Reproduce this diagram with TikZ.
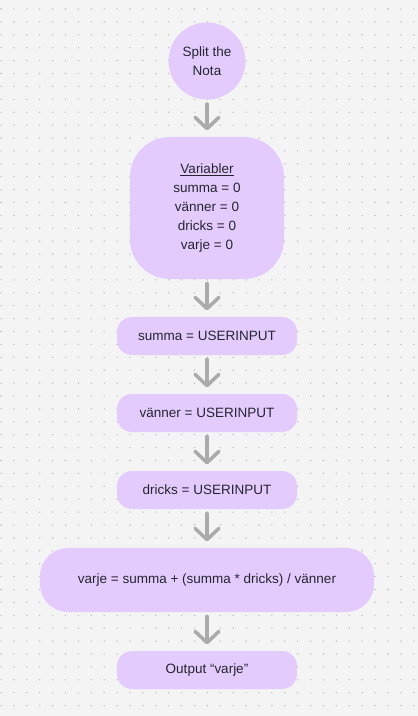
\documentclass[tikz,border=0pt]{standalone}
\usepackage{fontspec}
\setmainfont{Liberation Sans}
\usepackage{xcolor}
\usepackage{tikz}
\usetikzlibrary{arrows.meta,shapes.geometric}
\definecolor{bggray}{HTML}{F4F4F4}
\definecolor{dotgray}{HTML}{BDBDBD}
\definecolor{lilac}{HTML}{E3CCFD}
\definecolor{arrowgray}{HTML}{ABABAB}
\definecolor{inkdark}{HTML}{26252F}
\tikzset{
	flow/.style={
			draw=arrowgray,
			line width=2.5pt,
			line cap=round,
			-{Straight Barb[length=8pt,width=17pt,round]},
			shorten <=3pt,
			shorten >=4.5pt,
		},
	startnode/.style={
			circle,
			fill=lilac,
			minimum size=1.925cm,
			inner sep=0pt,
			align=center,
			text=inkdark,
			font=\fontsize{9.6}{13.5}\selectfont
		},
	stepbox/.style={
			rectangle,
			fill=lilac,
			rounded corners=0.375cm,
			minimum width=4.5cm,
			minimum height=0.95cm,
			align=center,
			text=inkdark,
			font=\fontsize{9.6}{13.5}\selectfont
		}
}
\begin{document}
\begin{tikzpicture}[x=0.025cm,y=-0.025cm]
	\fill[bggray] (0,0) rectangle (418,716);
	\useasboundingbox (0,0) rectangle (418,716);
	% dot grid
	\foreach \i in {0,...,32}
	\foreach \j in {0,...,54}
	\fill[dotgray] (1+12.9*\i,9+12.9*\j) circle (0.55pt);

	\node[startnode] at (207,61) (start) {Split the\\Nota};

	\node[stepbox, minimum width=3.85cm, minimum height=3.55cm, rounded corners=1cm] at (207,208) (vars) {\underline{Variabler}\\
		summa = 0\\
		vänner = 0\\
		dricks = 0\\
		varje = 0};

	\node[stepbox] at (207,336) (summa) {summa = USERINPUT};
	\node[stepbox] at (207,413) (vanner) {vänner = USERINPUT};
	\node[stepbox] at (207,490) (dricks) {dricks = USERINPUT};
	\node[stepbox, minimum width=8.35cm, minimum height=1.6cm, rounded corners=0.7cm] at (207,580) (varje) {varje = summa + (summa * dricks) / vänner};
	\node[stepbox] at (207,670) (output) {Output “varje”};

	\draw[flow] (start) -- (vars);
	\draw[flow] (vars) -- (summa);
	\draw[flow] (summa) -- (vanner);
	\draw[flow] (vanner) -- (dricks);
	\draw[flow] (dricks) -- (varje);
	\draw[flow] (varje) -- (output);
\end{tikzpicture}
\end{document}
